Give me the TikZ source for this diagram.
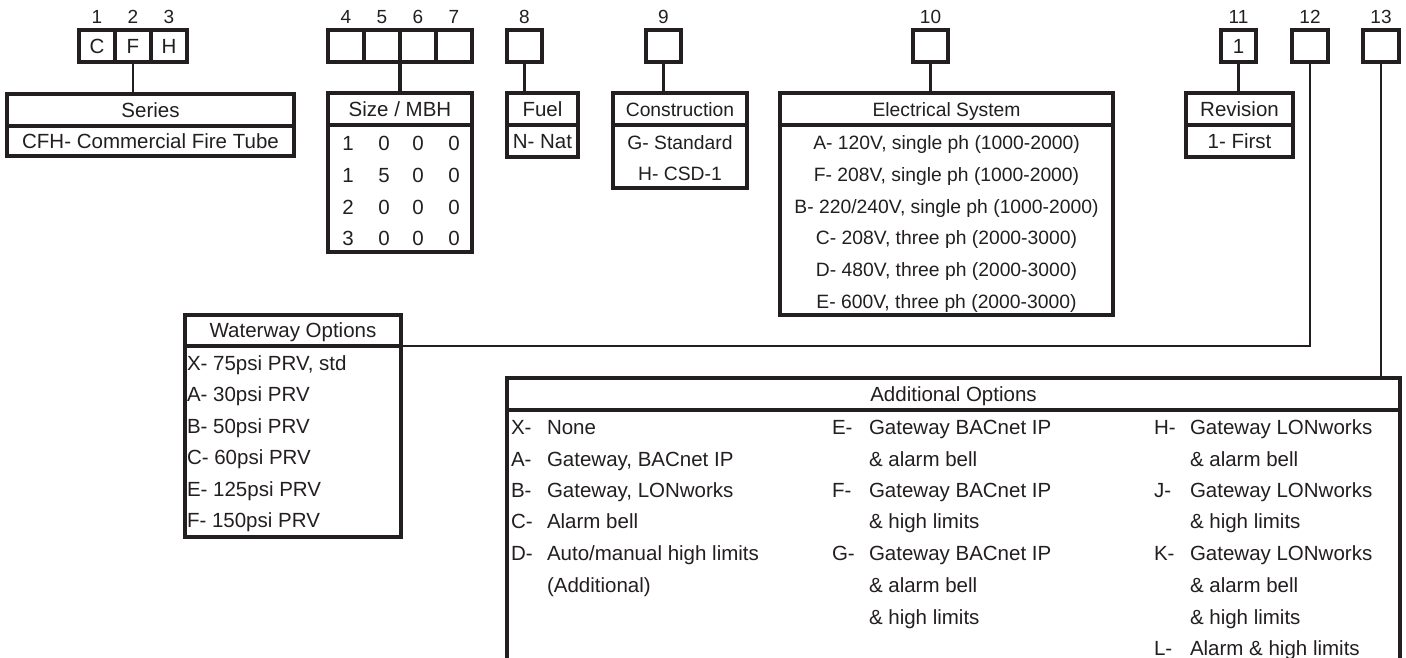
\documentclass[tikz,border=0pt]{standalone}
\usepackage{fontspec}
\setmainfont{Liberation Sans}
\newcommand\fMain{\fontsize{20.5pt}{24pt}\selectfont}
\newcommand\fElec{\fontsize{19.3pt}{23pt}\selectfont}
\newcommand\fNum{\fontsize{19pt}{23pt}\selectfont}
\definecolor{ink}{HTML}{231F20}
\begin{document}
\begin{tikzpicture}[x=1pt,y=-1pt,
  box/.style={draw=ink, line width=3.2pt, inner sep=0pt, outer sep=0pt, anchor=north west,
    text height=14pt, text depth=0pt, font=\fMain, text=ink},
  cell/.style={box, minimum width=36pt, minimum height=32pt},
  txt/.style={inner sep=0pt, outer sep=0pt, text height=14pt, text depth=0pt, font=\fMain, text=ink},
  txtl/.style={txt, anchor=west},
  etxt/.style={txt, font=\fElec},
  num/.style={txt, font=\fNum},
  link/.style={draw=ink, line width=2.1pt},
  thicklink/.style={draw=ink, line width=3.2pt}
]
\useasboundingbox (0,0) rectangle (1406,657);
\clip (0,0) rectangle (1406,657);
\fill[white] (0,0) rectangle (1406,657);

% ---- code boxes ----
\node[cell] (c1) at (79,30) {C};
\node[cell] (c2) at (115,30) {F};
\node[cell] (c3) at (151,30) {H};
\node[cell] (c4) at (328,30) {};
\node[cell] (c5) at (364,30) {};
\node[cell] (c6) at (400,30) {};
\node[cell] (c7) at (436,30) {};
\node[cell, minimum width=35pt] (c8) at (507,30) {};
\node[cell, minimum width=35pt] (c9) at (646,30) {};
\node[cell, minimum width=35pt] (c10) at (913,30) {};
\node[cell, minimum width=35pt] (c11) at (1221,30) {1};
\node[cell] (c12) at (1292,30) {};
\node[cell] (c13) at (1363,30) {};

% ---- position numbers ----
\foreach \i in {1,...,13} {
  \node[num] (n\i) at ([yshift=14pt]c\i.north) {\i};
}

% ---- Series ----
\node[box, minimum width=287pt, minimum height=32pt] (serH) at (7,94) {Series};
\node[box, minimum width=287pt, minimum height=30pt] (serB) at (7,126) {CFH- Commercial Fire Tube};

% ---- Size / MBH ----
\node[box, minimum width=144pt, minimum height=32pt] (sizH) at (328,93) {Size / MBH};
\node[box, minimum width=144pt, minimum height=127pt] (sizB) at (328,125) {};
\foreach \r/\a/\b/\c/\d [count=\k] in {143/1/0/0/0, 175/1/5/0/0, 207/2/0/0/0, 238/3/0/0/0} {
  \node[txt] (sz\k a) at (348,\r) {\a};
  \node[txt] (sz\k b) at (384,\r) {\b};
  \node[txt] (sz\k c) at (418,\r) {\c};
  \node[txt] (sz\k d) at (454,\r) {\d};
}

% ---- Fuel ----
\node[box, minimum width=71pt, minimum height=32pt] (fuH) at (507,93) {Fuel};
\node[box, minimum width=71pt, minimum height=32pt] (fuB) at (507,125) {N- Nat};

% ---- Construction ----
\node[box, minimum width=134pt, minimum height=32pt, font=\fElec] (coH) at (613,93) {Construction};
\node[box, minimum width=134pt, minimum height=63pt] (coB) at (613,125) {};
\node[etxt] (co1) at (680,142) {G- Standard};
\node[etxt] (co2) at (680,173) {H- CSD-1};

% ---- Electrical ----
\node[box, minimum width=333pt, minimum height=32pt, font=\fElec] (elH) at (780,93) {Electrical System};
\node[box, minimum width=333pt, minimum height=190pt] (elB) at (780,125) {};
\node[etxt] (el1) at (946.5,142) {A- 120V, single ph (1000-2000)};
\node[etxt] (el2) at (946.5,174) {F- 208V, single ph (1000-2000)};
\node[etxt] (el3) at (946.5,206) {B- 220/240V, single ph (1000-2000)};
\node[etxt] (el4) at (946.5,237) {C- 208V, three ph (2000-3000)};
\node[etxt] (el5) at (946.5,269) {D- 480V, three ph (2000-3000)};
\node[etxt] (el6) at (946.5,301) {E- 600V, three ph (2000-3000)};

% ---- Revision ----
\node[box, minimum width=107pt, minimum height=32pt] (reH) at (1186,93) {Revision};
\node[box, minimum width=107pt, minimum height=32pt] (reB) at (1186,125) {1- First};

% ---- Waterway ----
\node[box, minimum width=216pt, minimum height=31pt] (waH) at (185,315) {Waterway Options};
\node[box, minimum width=216pt, minimum height=191pt] (waB) at (185,346) {};
\node[txtl] (wa1) at (187,363) {X- 75psi PRV, std};
\node[txtl] (wa2) at (187,394.5) {A- 30psi PRV};
\node[txtl] (wa3) at (187,426) {B- 50psi PRV};
\node[txtl] (wa4) at (187,457.5) {C- 60psi PRV};
\node[txtl] (wa5) at (187,489) {E- 125psi PRV};
\node[txtl] (wa6) at (187,520.5) {F- 150psi PRV};

% ---- Additional Options ----
\node[box, minimum width=893pt, minimum height=32pt] (adH) at (507,378) {Additional Options};
\node[box, minimum width=893pt, minimum height=320pt] (adB) at (507,410) {};
% column 1
\node[txtl] (a1l) at (511,427) {X-};   \node[txtl] (a1t) at (547,427) {None};
\node[txtl] (a2l) at (511,459) {A-};   \node[txtl] (a2t) at (547,459) {Gateway, BACnet IP};
\node[txtl] (a3l) at (511,490) {B-};   \node[txtl] (a3t) at (547,490) {Gateway, LONworks};
\node[txtl] (a4l) at (511,521.5) {C-}; \node[txtl] (a4t) at (547,521.5) {Alarm bell};
\node[txtl] (a5l) at (511,553) {D-};   \node[txtl] (a5t) at (547,553) {Auto/manual high limits};
\node[txtl] (a6t) at (547,585) {(Additional)};
% column 2
\node[txtl] (b1l) at (832,427) {E-};   \node[txtl] (b1t) at (869,427) {Gateway BACnet IP};
\node[txtl] (b2t) at (869,459) {\& alarm bell};
\node[txtl] (b3l) at (832,490) {F-};   \node[txtl] (b3t) at (869,490) {Gateway BACnet IP};
\node[txtl] (b4t) at (869,521.5) {\& high limits};
\node[txtl] (b5l) at (832,553) {G-};   \node[txtl] (b5t) at (869,553) {Gateway BACnet IP};
\node[txtl] (b6t) at (869,585) {\& alarm bell};
\node[txtl] (b7t) at (869,617) {\& high limits};
% column 3
\node[txtl] (d1l) at (1154,427) {H-};  \node[txtl] (d1t) at (1190,427) {Gateway LONworks};
\node[txtl] (d2t) at (1190,459) {\& alarm bell};
\node[txtl] (d3l) at (1154,490) {J-};  \node[txtl] (d3t) at (1190,490) {Gateway LONworks};
\node[txtl] (d4t) at (1190,521.5) {\& high limits};
\node[txtl] (d5l) at (1154,553) {K-};  \node[txtl] (d5t) at (1190,553) {Gateway LONworks};
\node[txtl] (d6t) at (1190,585) {\& alarm bell};
\node[txtl] (d7t) at (1190,617) {\& high limits};
\node[txtl] (d8l) at (1154,648) {L-};  \node[txtl] (d8t) at (1190,648) {Alarm \& high limits};

% ---- connectors ----
\draw[link] (c2.south) -- (c2.south |- serH.north);
\draw[thicklink] (c5.south east) -- (c5.south east |- sizH.north);
\draw[link] (c8.south) -- (c8.south |- fuH.north);
\draw[link] (c9.south) -- (c9.south |- coH.north);
\draw[link] (c10.south) -- (c10.south |- elH.north);
\draw[link] (c11.south) -- (c11.south |- reH.north);
\draw[link] (c12.south) |- (waH.south east);
\draw[link] (c13.south) -- (c13.south |- adH.north);
\end{tikzpicture}
\end{document}
